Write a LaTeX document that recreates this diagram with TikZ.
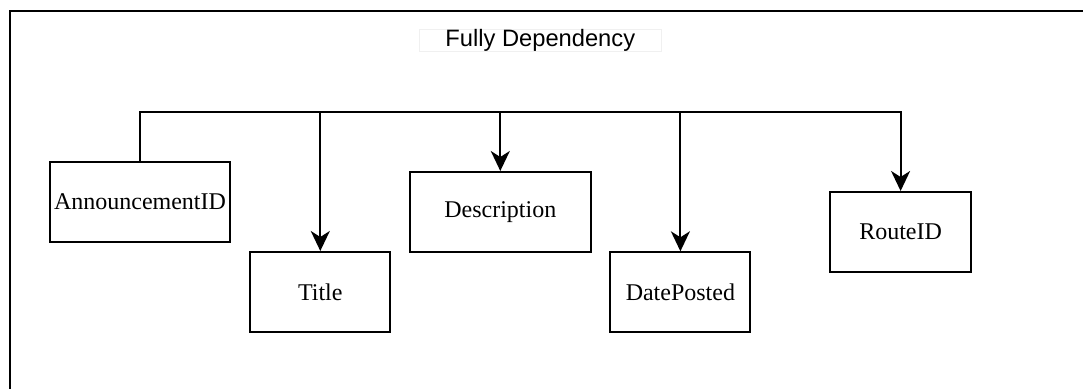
\documentclass[tikz,border=0pt]{standalone}
\usepackage{fontspec}
\setmainfont{Liberation Serif}
\setsansfont{Liberation Sans}
\usetikzlibrary{arrows.meta}

\tikzset{
  attr/.style={draw, line width=2pt, rectangle, inner sep=0pt, minimum height=80pt,
    font=\fontsize{24}{28}\selectfont},
  link/.style={line width=2pt},
  arrow/.style={link, -{Stealth[length=20pt, width=19pt, inset=6pt]}},
  caption/.style={draw=black!6, fill=white, line width=0.8pt, inner sep=0pt,
    minimum width=242pt, minimum height=20pt,
    font=\sffamily\fontsize{23.7}{28}\selectfont}
}

\begin{document}
\begin{tikzpicture}[x=1pt, y=-1pt]
  \useasboundingbox (0,0) rectangle (1083,388);
  \clip (0,0) rectangle (1083,388);

  % frame
  \draw[line width=2.5pt] (10,11) rectangle (1120,420);

  % heading
  \node[caption] (head) at (540.3,40.8) {Fully Dependency};

  % attribute boxes
  \node[attr, minimum width=180pt] (ann)   at (140,202)   {AnnouncementID};
  \node[attr, minimum width=140pt] (title) at (320.3,292) {Title};
  \node[attr, minimum width=181pt] (desc)  at (500.3,212) {Description};
  \node[attr, minimum width=140pt] (date)  at (680.4,292.3) {DatePosted};
  \node[attr, minimum width=141pt] (route) at (900.6,232) {RouteID};

  % dependency bus
  \coordinate (bus) at (0,111.7);
  \draw[arrow] (ann.north) |- (route.north |- bus) -- (route.north);
  \draw[arrow] (title.north |- bus) -- (title.north);
  \draw[arrow] (desc.north |- bus) -- (desc.north);
  \draw[arrow] (date.north |- bus) -- (date.north);
\end{tikzpicture}
\end{document}
